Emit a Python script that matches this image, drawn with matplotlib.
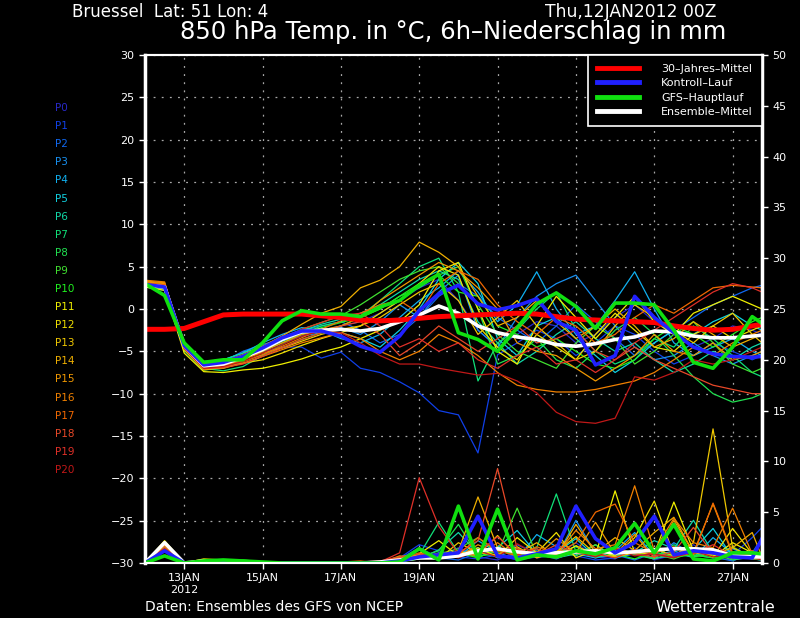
import matplotlib
matplotlib.use('Agg')
import matplotlib.pyplot as plt
from matplotlib.lines import Line2D
import numpy as np

# Zeitachse: Stunden ab 12JAN2012 00Z (12-stuendlich, letzter Punkt 27JAN 18Z)
hours = list(range(0, 373, 12)) + [378]

# 850 hPa Temperatur der Ensemble-Laeufe P0..P20
t_p0 = [2.8, 2.6, -4.5, -6.8, -6.5, -5.5, -4.5, -3.5, -2.8, -2.5, -2.0, -1.5, -0.5, 1.0, 2.5, 3.5, 1.0, -2.5, -4.5, -3.0, -1.5, -2.0, -4.0, -3.0, -1.0, 0.5, -1.5, -3.0, -4.5, -3.5, -2.0, -2.5, -3.0]
t_p1 = [2.9, 2.5, -4.8, -7.0, -6.8, -6.0, -5.0, -4.5, -4.5, -5.8, -5.1, -7.0, -7.5, -8.6, -9.9, -12.0, -12.5, -17.0, -5.4, -4.0, -2.5, -3.5, -5.5, -4.0, -2.0, -3.0, -5.0, -6.5, -5.5, -4.0, -5.0, -6.0, -5.5]
t_p2 = [3.0, 2.8, -4.2, -6.5, -6.2, -5.0, -4.2, -3.5, -2.5, -2.0, -1.5, -2.5, -4.0, -3.0, -1.0, 1.5, 3.0, 1.5, -1.0, -2.5, -4.0, -2.0, 0.5, -1.5, -3.5, -5.5, -4.0, -2.5, -1.0, 0.5, 1.5, 2.5, 2.8]
t_p3 = [2.7, 2.4, -4.6, -6.9, -6.6, -5.8, -5.0, -4.0, -3.2, -2.8, -2.2, -3.0, -1.5, 0.5, -1.0, 2.0, 4.0, -2.5, -4.5, -1.0, 1.5, 3.0, 4.0, 1.0, -2.0, -4.5, -6.0, -5.5, -4.0, -5.5, -6.5, -5.5, -5.0]
t_p4 = [2.6, 2.2, -4.0, -6.2, -6.0, -5.2, -4.0, -3.0, -2.2, -2.5, -3.5, -4.0, -3.0, -1.0, 1.0, 2.5, 4.5, 2.0, -1.5, 0.5, 4.4, 0.0, -3.0, -2.0, 1.0, 4.4, 0.0, -4.0, -5.5, -4.5, -3.5, -5.0, -5.5]
t_p5 = [2.8, 2.5, -4.4, -6.6, -6.4, -5.6, -4.8, -3.8, -3.0, -2.6, -2.8, -3.5, -4.5, -2.5, 0.0, 3.5, 5.5, 3.0, -3.5, -5.5, -2.0, -1.0, -3.5, -5.5, -7.5, -6.0, -4.0, -2.5, -3.0, -1.5, -0.5, -2.0, -2.5]
t_p6 = [3.1, 2.9, -4.1, -6.3, -6.0, -5.2, -4.4, -3.6, -2.6, -1.8, -1.2, -0.5, 0.5, 2.0, 3.5, 4.5, 3.5, -1.5, -4.0, -6.5, -5.0, -3.0, -1.5, -3.5, -5.0, -4.0, -6.0, -7.5, -6.5, -5.0, -6.0, -4.5, -4.0]
t_p7 = [2.9, 2.6, -4.7, -7.0, -7.3, -6.8, -5.5, -4.2, -3.0, -2.0, -1.5, -0.8, 1.0, 3.0, 5.0, 6.0, 2.0, -8.5, -4.0, -2.5, 0.0, 2.0, -2.5, -5.0, -6.5, -5.5, -3.5, -4.5, -2.0, -3.5, -5.5, -7.5, -8.0]
t_p8 = [2.7, 2.4, -4.9, -7.2, -7.0, -6.2, -5.4, -4.6, -3.6, -2.8, -2.0, -1.0, 0.0, 1.5, 2.5, 4.0, 5.0, 0.0, -6.5, -5.5, -3.5, -6.0, -7.0, -5.0, -2.5, -1.0, -3.0, -5.5, -8.0, -10.0, -11.0, -10.5, -10.0]
t_p9 = [3.0, 2.7, -4.3, -6.6, -6.4, -5.6, -4.6, -3.4, -2.4, -1.6, -0.8, 0.5, 2.0, 3.5, 4.5, 5.0, 3.0, 0.5, -3.0, -5.0, -6.0, -7.0, -4.0, -2.0, -3.5, -6.5, -5.0, -3.0, -1.5, -4.0, -6.5, -7.5, -7.0]
t_p10 = [2.8, 2.6, -4.5, -6.8, -6.6, -6.0, -5.0, -4.0, -3.0, -2.2, -1.6, -1.0, 0.0, 1.5, 3.0, 4.0, 2.0, 1.5, -2.0, -3.0, -4.5, -3.5, -5.0, -6.5, -7.0, -6.0, -3.5, -2.0, -3.0, -4.5, -3.0, -1.5, -1.0]
t_p11 = [2.6, 2.2, -5.2, -7.4, -7.5, -7.2, -7.0, -6.5, -5.9, -5.1, -4.5, -3.5, -2.5, -1.5, 0.5, 4.5, 5.5, 0.0, -5.0, -6.5, -2.0, 1.5, -1.0, -3.5, -1.0, 1.5, -1.5, -3.0, -0.5, 0.5, 1.5, 0.5, 0.0]
t_p12 = [2.9, 2.7, -4.8, -7.2, -6.9, -6.4, -6.0, -5.2, -4.3, -3.5, -2.8, -2.0, -0.5, 1.0, 3.0, 5.0, 4.0, -2.0, -4.5, -6.0, -3.0, -4.5, -6.0, -3.0, -0.5, -2.5, -4.5, -5.0, -3.0, -2.0, -3.5, -2.5, -2.0]
t_p13 = [3.0, 2.8, -4.4, -6.7, -6.5, -5.8, -5.2, -4.6, -3.8, -3.0, -2.4, -2.0, -1.0, 0.5, 2.0, 3.0, 1.0, -3.0, -1.0, 1.0, -2.0, -4.0, -6.0, -5.0, -2.0, 0.5, -1.0, -2.5, -4.0, -2.0, -0.5, -3.0, -4.0]
t_p14 = [3.2, 3.0, -4.0, -6.4, -6.2, -5.4, -4.4, -3.2, -1.8, -0.5, 0.3, 2.5, 3.4, 5.0, 7.9, 6.7, 5.0, 1.5, -2.0, -1.0, 1.0, -1.5, -3.5, -2.0, 0.0, -2.0, -4.5, -3.5, -1.5, -3.0, -4.5, -3.5, -3.0]
t_p15 = [3.3, 3.1, -4.3, -6.7, -6.8, -6.0, -5.0, -4.0, -3.0, -2.5, -2.0, -1.0, 1.0, 2.5, 4.0, 5.5, 4.5, 2.5, 0.0, -4.0, -5.0, -5.5, -7.0, -8.5, -7.0, -5.5, -3.0, -5.0, -5.5, -4.0, -6.0, -5.5, -5.0]
t_p16 = [3.4, 3.2, -4.6, -7.0, -7.0, -6.4, -5.6, -4.8, -4.0, -3.4, -2.8, -3.5, -5.0, -6.0, -5.0, -3.0, -4.0, -5.5, -7.5, -9.0, -9.5, -9.8, -9.8, -9.5, -9.0, -8.5, -7.5, -6.0, -4.5, -5.5, -4.0, -3.0, -2.5]
t_p17 = [3.1, 2.9, -4.5, -6.9, -6.7, -6.2, -5.4, -4.4, -3.4, -2.4, -1.4, -0.5, 0.5, 1.0, -0.5, 3.0, 4.5, 3.5, 0.5, -1.5, -3.0, -1.0, -2.0, -4.0, -3.0, -1.0, 0.5, -0.5, 1.0, 2.5, 2.8, 2.6, 2.5]
t_p18 = [3.0, 2.8, -4.7, -7.1, -6.9, -6.5, -5.6, -4.6, -3.6, -2.8, -2.0, -1.5, -3.0, -5.5, -4.0, -2.0, -3.5, -5.0, -3.5, -2.0, -4.0, -3.5, -2.5, -5.0, -6.0, -4.5, -6.0, -7.0, -8.0, -9.0, -9.5, -10.0, -10.0]
t_p19 = [2.9, 2.7, -4.4, -6.8, -6.6, -5.8, -4.8, -3.6, -2.4, -1.6, -0.8, -0.5, -2.0, -4.5, -3.5, -5.0, -4.0, -6.0, -7.0, -5.5, -4.5, -6.5, -6.0, -7.5, -6.0, -4.0, -2.5, -1.0, 0.5, 2.0, 3.0, 2.5, 2.0]
t_p20 = [2.8, 2.6, -4.6, -7.0, -6.8, -6.2, -5.2, -4.2, -3.2, -2.6, -2.8, -4.0, -5.5, -6.5, -6.5, -7.0, -7.4, -7.8, -7.6, -8.5, -9.9, -12.2, -13.3, -13.5, -12.9, -8.0, -8.4, -7.5, -6.0, -6.5, -6.0, -5.0, -4.5]

# 6h-Niederschlag der Ensemble-Laeufe (mm)
r_p0 = [0, 1.5, 0, 0.1, 0, 0, 0, 0, 0, 0, 0, 0, 0, 0.3, 0.8, 0.5, 1.5, 0.6, 0.3, 1.2, 0.5, 0.8, 2.0, 0.6, 0.4, 1.5, 0.3, 0.8, 1.8, 0.5, 0.3, 0.6, 0.2]
r_p1 = [0, 1.4, 0, 0, 0.1, 0, 0, 0, 0, 0, 0, 0, 0, 0.5, 1.8, 1.2, 0.6, 0.4, 0.8, 0.3, 0.6, 1.5, 0.7, 0.3, 0.5, 1.0, 0.4, 0.9, 0.6, 1.2, 0.8, 2.5, 3.5]
r_p2 = [0, 1.6, 0, 0, 0, 0, 0, 0, 0, 0, 0, 0, 0.1, 0.4, 1.5, 0.5, 0.3, 1.0, 0.6, 1.8, 0.9, 0.4, 1.2, 0.5, 0.8, 0.3, 1.0, 0.5, 1.5, 0.6, 0.2, 1.0, 2.5]
r_p3 = [0, 1.7, 0, 0, 0, 0, 0, 0, 0, 0, 0, 0, 0, 0.2, 0.6, 0.4, 0.9, 1.5, 0.5, 0.8, 1.2, 0.6, 4.2, 1.0, 0.5, 0.9, 0.4, 2.0, 0.8, 0.5, 1.4, 0.6, 0.4]
r_p4 = [0, 1.5, 0, 0, 0, 0, 0, 0, 0, 0, 0, 0, 0, 0.1, 0.5, 1.0, 0.6, 2.2, 1.0, 0.4, 2.8, 1.6, 0.9, 0.5, 1.2, 3.0, 0.7, 1.2, 0.5, 2.5, 0.9, 0.4, 0.3]
r_p5 = [0, 1.8, 0, 0.1, 0, 0, 0, 0, 0, 0, 0, 0, 0, 0.3, 0.7, 0.5, 1.2, 0.8, 1.5, 3.2, 0.9, 1.0, 2.4, 0.6, 0.8, 1.1, 0.5, 0.7, 1.3, 3.4, 0.6, 0.5, 0.4]
r_p6 = [0, 1.3, 0, 0.2, 0.1, 0, 0, 0, 0, 0, 0, 0, 0, 0.2, 0.4, 1.3, 3.0, 0.9, 1.6, 0.7, 1.4, 0.5, 0.9, 1.8, 0.6, 1.0, 2.2, 1.4, 4.2, 1.0, 0.5, 0.8, 0.6]
r_p7 = [0, 1.6, 0, 0, 0, 0.1, 0, 0, 0, 0, 0, 0, 0, 0.4, 0.8, 4.0, 1.0, 0.6, 1.2, 0.8, 1.5, 6.8, 1.1, 0.7, 1.6, 0.9, 0.5, 1.8, 0.7, 1.2, 0.4, 0.9, 0.5]
r_p8 = [0, 1.4, 0, 0.1, 0, 0, 0, 0, 0, 0, 0, 0, 0, 0.3, 0.6, 1.2, 3.8, 0.7, 0.9, 1.5, 0.6, 1.0, 1.6, 0.6, 1.4, 0.8, 0.4, 1.0, 0.6, 0.9, 0.3, 0.6, 0.4]
r_p9 = [0, 1.5, 0, 0, 0.1, 0, 0.1, 0, 0, 0, 0, 0, 0, 0.2, 0.5, 0.9, 1.4, 2.5, 1.0, 5.4, 0.8, 1.2, 0.7, 1.8, 0.5, 1.3, 0.9, 0.4, 1.1, 0.7, 1.6, 0.5, 0.4]
r_p10 = [0, 1.3, 0, 0.2, 0.2, 0.3, 0.1, 0, 0, 0, 0, 0, 0, 0.1, 0.4, 0.6, 1.0, 0.5, 1.4, 0.7, 0.9, 0.5, 1.2, 0.6, 0.9, 0.4, 1.1, 0.6, 0.8, 0.5, 0.9, 0.4, 0.3]
r_p11 = [0, 2.2, 0, 0.4, 0.3, 0.2, 0.1, 0, 0, 0, 0, 0, 0, 0.3, 0.9, 2.2, 0.7, 1.5, 0.6, 2.5, 1.0, 0.6, 1.7, 0.8, 7.1, 1.0, 0.9, 6.0, 1.2, 0.6, 2.0, 1.0, 0.4]
r_p12 = [0, 1.7, 0, 0.3, 0.2, 0.1, 0, 0, 0, 0, 0, 0, 0, 0.2, 0.6, 0.5, 1.1, 0.8, 2.7, 0.6, 1.0, 3.0, 0.5, 1.3, 0.7, 2.5, 6.1, 0.8, 1.5, 0.6, 3.4, 0.9, 0.7]
r_p13 = [0, 2.0, 0, 0.2, 0.1, 0, 0, 0, 0, 0, 0, 0, 0, 0.1, 0.7, 0.4, 2.0, 1.0, 0.8, 1.6, 0.5, 1.1, 2.6, 0.9, 0.6, 1.0, 1.4, 0.7, 2.0, 13.2, 1.5, 0.6, 0.5]
r_p14 = [0, 2.1, 0, 0.2, 0, 0.1, 0, 0, 0, 0, 0, 0, 0, 0.6, 0.8, 0.5, 1.2, 6.5, 1.5, 0.9, 2.0, 0.6, 3.8, 1.0, 2.5, 1.2, 3.0, 4.5, 1.0, 0.8, 1.5, 3.0, 0.6]
r_p15 = [0, 2.0, 0, 0.1, 0, 0, 0, 0, 0, 0, 0, 0, 0, 0.7, 0.5, 0.9, 0.6, 1.8, 0.9, 1.4, 0.7, 2.4, 1.0, 4.0, 0.9, 2.8, 0.5, 4.2, 1.0, 5.8, 0.8, 1.2, 0.7]
r_p16 = [0, 1.9, 0, 0.1, 0, 0, 0, 0, 0, 0, 0, 0, 0, 0.5, 0.6, 0.4, 1.0, 0.7, 2.0, 0.6, 1.1, 0.8, 3.2, 1.4, 1.8, 7.6, 1.2, 4.4, 2.0, 1.5, 5.4, 0.9, 0.5]
r_p17 = [0, 1.7, 0, 0, 0, 0, 0, 0, 0, 0, 0.1, 0.2, 0, 0.4, 1.0, 0.6, 0.8, 2.5, 1.2, 0.7, 1.6, 0.9, 2.0, 5.0, 5.8, 2.0, 1.0, 1.6, 0.8, 5.9, 1.0, 0.7, 0.5]
r_p18 = [0, 1.5, 0, 0, 0, 0, 0, 0, 0, 0, 0, 0.1, 0.2, 0.6, 0.9, 0.5, 1.0, 2.2, 9.3, 1.4, 0.8, 1.8, 1.0, 0.7, 1.5, 0.9, 0.6, 1.1, 3.5, 0.9, 0.5, 1.2, 0.8]
r_p19 = [0, 1.3, 0, 0, 0, 0, 0, 0, 0, 0, 0, 0, 0.1, 1.0, 8.4, 3.6, 0.9, 1.0, 2.6, 0.8, 1.4, 0.6, 1.2, 0.9, 0.5, 1.3, 0.8, 0.6, 1.0, 1.8, 0.7, 0.4, 0.5]
r_p20 = [0, 1.4, 0, 0, 0, 0, 0, 0, 0, 0, 0, 0, 0, 0.3, 0.7, 0.9, 0.5, 1.2, 0.6, 1.9, 0.8, 0.5, 1.1, 0.6, 1.4, 0.7, 0.9, 0.5, 1.2, 0.6, 0.8, 0.5, 0.3]

# Hauptkurven
t_clim = [-2.4, -2.4, -2.3, -1.5, -0.7, -0.6, -0.6, -0.6, -0.6, -0.8, -1.0, -1.3, -1.4, -1.3, -1.1, -0.9, -0.8, -0.7, -0.6, -0.5, -0.6, -0.9, -1.2, -1.3, -1.4, -1.5, -1.6, -2.0, -2.3, -2.5, -2.4, -2.0, -1.8]
t_ctrl = [2.9, 2.6, -4.3, -6.6, -6.3, -5.6, -4.6, -3.4, -2.6, -2.6, -3.2, -4.4, -5.1, -3.2, -0.2, 1.8, 2.8, 0.6, -0.1, 0.4, 1.2, -1.5, -2.5, -6.6, -5.5, 1.5, -1.0, -2.8, -4.5, -5.3, -5.6, -5.7, -5.6]
t_gfs = [3.0, 1.6, -4.0, -6.3, -6.0, -6.0, -4.0, -1.4, -0.2, -0.6, -0.6, -0.9, 0.25, 1.0, 2.8, 4.1, -2.8, -3.6, -5.0, -2.2, 0.6, 1.9, 0.3, -2.3, 0.7, 0.7, 0.5, -2.5, -6.3, -7.0, -4.5, -0.9, -1.7]
t_mean = [2.8, 2.6, -4.3, -6.7, -6.5, -5.7, -4.8, -3.6, -2.7, -2.5, -2.4, -2.6, -2.3, -1.5, -0.7, 0.35, -0.5, -2.0, -2.8, -3.3, -3.6, -4.2, -4.4, -4.1, -3.6, -3.3, -2.6, -2.7, -3.2, -3.4, -3.4, -3.2, -3.1]
r_ctrl = [0, 1.2, 0, 0, 0, 0, 0, 0, 0, 0, 0, 0, 0, 0.2, 0.6, 0.8, 1.0, 4.6, 0.7, 0.5, 0.9, 1.4, 5.6, 2.4, 1.0, 2.0, 4.6, 0.8, 1.2, 1.0, 0.6, 0.5, 2.4]
r_gfs = [0, 0.7, 0, 0.2, 0.3, 0.2, 0.1, 0, 0, 0, 0, 0, 0, 0.1, 1.4, 0.3, 5.6, 0.4, 5.3, 0.3, 0.8, 0.6, 1.2, 0.9, 1.5, 3.9, 1.0, 3.8, 0.4, 0.2, 1.0, 1.0, 0.9]
r_mean = [0, 2.0, 0, 0.2, 0.1, 0.1, 0, 0, 0, 0, 0, 0, 0.1, 0.3, 0.5, 0.5, 0.7, 1.2, 1.4, 1.1, 0.9, 1.0, 1.1, 1.2, 1.0, 1.1, 1.3, 1.4, 1.4, 1.3, 0.7, 0.6, 0.6]

member_temp = [t_p0, t_p1, t_p2, t_p3, t_p4, t_p5, t_p6, t_p7, t_p8, t_p9, t_p10,
               t_p11, t_p12, t_p13, t_p14, t_p15, t_p16, t_p17, t_p18, t_p19, t_p20]
member_rain = [r_p0, r_p1, r_p2, r_p3, r_p4, r_p5, r_p6, r_p7, r_p8, r_p9, r_p10,
               r_p11, r_p12, r_p13, r_p14, r_p15, r_p16, r_p17, r_p18, r_p19, r_p20]
member_names = ['P%d' % i for i in range(21)]
member_colors = ['#2828c8', '#1040e8', '#1068f0', '#1890f0', '#10b0f0', '#10d0e0', '#10d8a8',
                 '#10e078', '#20e050', '#40e030', '#20f020', '#f0f000', '#f0e000', '#f0c800',
                 '#f0b000', '#f09800', '#f08000', '#f06800', '#e84828', '#e03028', '#c01818']

tick_days = ['13JAN\n2012', '15JAN', '17JAN', '19JAN', '21JAN', '23JAN', '25JAN', '27JAN']
tick_hours = [24, 72, 120, 168, 216, 264, 312, 360]

x = np.array(hours) / 24.0  # Tage ab 12JAN 00Z

fig = plt.figure(figsize=(8, 6.18), dpi=100, facecolor='black')
ax = fig.add_axes([145 / 800, 55 / 618, 617 / 800, 508 / 618])
ax.set_facecolor('black')
ax.set_xlim(0, 378 / 24.0)
ax.set_ylim(-30, 30)
ax.set_yticks(range(-30, 31, 5))
ax.set_xticks(np.array(tick_hours) / 24.0)
ax.set_xticklabels(tick_days)
ax.grid(True, color='#a8a8a8', linestyle=(0, (1.5, 5)), linewidth=0.9)
ax.tick_params(colors='white', labelsize=8, length=4, direction='out', width=1)

ax2 = ax.twinx()
ax2.set_ylim(0, 50)
ax2.set_yticks(range(0, 51, 5))
ax2.tick_params(colors='white', labelsize=8, length=4, direction='out', width=1)

for a in (ax, ax2):
    for s in a.spines.values():
        s.set_color('white')
        s.set_linewidth(1.5)
ax.spines['left'].set_linewidth(2.5)
ax2.spines['right'].set_linewidth(2.5)

# Ensemble-Laeufe
for temp, rain, col in zip(member_temp, member_rain, member_colors):
    ax.plot(x, temp, color=col, lw=0.9)
    ax2.plot(x, rain, color=col, lw=0.9)

# Hauptkurven
ax.plot(x, t_mean, color='white', lw=2.6)
ax.plot(x, t_clim, color='#ff0000', lw=3.6)
ax.plot(x, t_ctrl, color='#2020ff', lw=2.6)
ax.plot(x, t_gfs, color='#10e010', lw=2.6)
ax2.plot(x, r_mean, color='white', lw=2.6)
ax2.plot(x, r_ctrl, color='#2020ff', lw=2.6)
ax2.plot(x, r_gfs, color='#10e010', lw=2.6)

handles = [Line2D([], [], color='#ff0000', lw=3.5),
           Line2D([], [], color='#2020ff', lw=3.5),
           Line2D([], [], color='#10e010', lw=3.5),
           Line2D([], [], color='white', lw=3.5)]
labels = ['30\u2013Jahres\u2013Mittel', 'Kontroll\u2013Lauf', 'GFS\u2013Hauptlauf', 'Ensemble\u2013Mittel']
leg = ax2.legend(handles, labels, loc='upper right', fontsize=8, handlelength=3.8,
                 handletextpad=2.0, labelspacing=0.4, borderpad=0.8, borderaxespad=0,
                 fancybox=False, framealpha=1, facecolor='black', edgecolor='white',
                 labelcolor='white')
leg.get_frame().set_linewidth(1.2)

# Beschriftung der Mitglieder
for i, (name, col) in enumerate(zip(member_names, member_colors)):
    fig.text(55 / 800, 1 - (108 + i * 18.1) / 618, name, color=col, fontsize=7.5, va='center')

fig.text(72 / 800, 1 - 12 / 618, 'Bruessel  Lat: 51 Lon: 4', color='white', fontsize=12, va='center')
fig.text(545 / 800, 1 - 12 / 618, 'Thu,12JAN2012 00Z', color='white', fontsize=12.3, va='center')
fig.text(453 / 800, 1 - 32 / 618, '850 hPa Temp. in \u00b0C, 6h\u2013Niederschlag in mm', color='white',
         fontsize=17.5, va='center', ha='center')
fig.text(145 / 800, 1 - 607 / 618, 'Daten: Ensembles des GFS von NCEP', color='white', fontsize=10, va='center')
fig.text(775 / 800, 1 - 607 / 618, 'Wetterzentrale', color='white', fontsize=11.5, va='center', ha='right')

fig.savefig('out.png', dpi=100, facecolor='black')
